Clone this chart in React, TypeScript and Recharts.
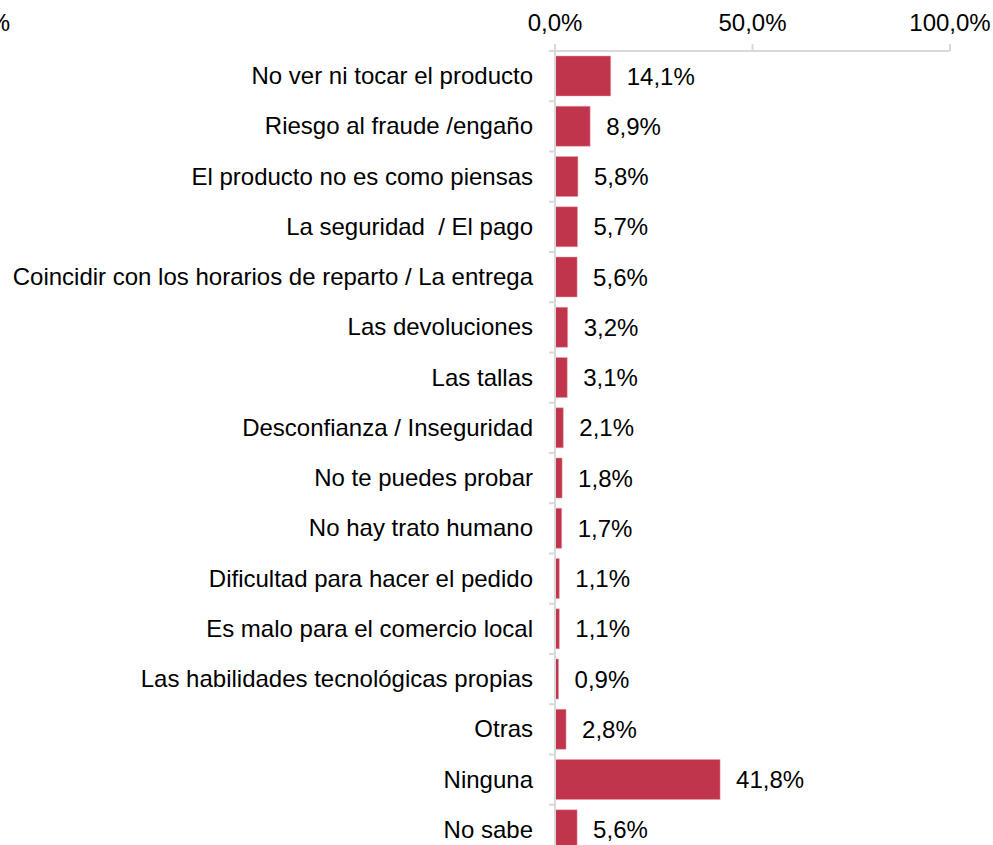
import { BarChart, Bar, XAxis, YAxis, LabelList } from "recharts";

// Reasons / barriers for buying online (% of respondents)
const categories = [
  "No ver ni tocar el producto",
  "Riesgo al fraude /engaño",
  "El producto no es como piensas",
  "La seguridad  / El pago",
  "Coincidir con los horarios de reparto / La entrega",
  "Las devoluciones",
  "Las tallas",
  "Desconfianza / Inseguridad",
  "No te puedes probar",
  "No hay trato humano",
  "Dificultad para hacer el pedido",
  "Es malo para el comercio local",
  "Las habilidades tecnológicas propias",
  "Otras",
  "Ninguna",
  "No sabe",
];

const values = [14.1, 8.9, 5.8, 5.7, 5.6, 3.2, 3.1, 2.1, 1.8, 1.7, 1.1, 1.1, 0.9, 2.8, 41.8, 5.6];

const xTicks = [0, 50, 100];

const data = categories.map((name, i) => ({ name, value: values[i] }));

const fmt = (v: number) => v.toFixed(1).replace(".", ",") + "%";

const FONT = "'Liberation Sans', Arial, sans-serif";
const FS = 24;
const AXIS = "#d9d9d9";
const BAR = "#c0354b";

function CategoryTick(props: any) {
  const { x, y, payload } = props;
  const half = payload.offset || 0;
  return (
    <g>
      <line x1={x + 16} x2={x + 22} y1={y - half} y2={y - half} stroke={AXIS} strokeWidth={2} />
      <text
        x={x}
        y={y}
        dy={8}
        textAnchor="end"
        fontSize={FS}
        fontFamily={FONT}
        fill="#000"
        style={{ whiteSpace: "pre" }}
      >
        {payload.value}
      </text>
    </g>
  );
}

export default function App() {
  return (
    <div style={{ position: "absolute", left: 0, top: 0, width: 993, height: 845, overflow: "hidden", background: "#fff" }}>
      {/* cut-off tick label from a neighbouring panel */}
      <div
        style={{
          position: "absolute",
          left: -100,
          width: 110,
          top: 9,
          textAlign: "right",
          fontFamily: FONT,
          fontSize: FS,
          color: "#000",
        }}
      >
        100,0%
      </div>
      <BarChart
        width={993}
        height={855}
        data={data}
        layout="vertical"
        margin={{ top: 0, right: 43, left: 0, bottom: 0 }}
        barCategoryGap="10%"
      >
        <XAxis
          type="number"
          orientation="top"
          domain={[0, 100]}
          ticks={xTicks}
          height={51}
          tickFormatter={fmt}
          tickSize={7}
          tickMargin={13}
          stroke={AXIS}
          strokeWidth={2}
          tick={{ fill: "#000", fontSize: FS, fontFamily: FONT }}
        />
        <YAxis
          type="category"
          dataKey="name"
          width={555}
          interval={0}
          tickLine={false}
          tickSize={0}
          tickMargin={22}
          stroke={AXIS}
          strokeWidth={2}
          tick={<CategoryTick />}
        />
        <Bar dataKey="value" fill={BAR} stroke="#e8a0ab" strokeWidth={0.5} isAnimationActive={false}>
          <LabelList
            dataKey="value"
            position="right"
            offset={16}
            formatter={(v: any) => fmt(Number(v))}
            style={{ fill: "#000", fontSize: FS, fontFamily: FONT }}
          />
        </Bar>
      </BarChart>
    </div>
  );
}
